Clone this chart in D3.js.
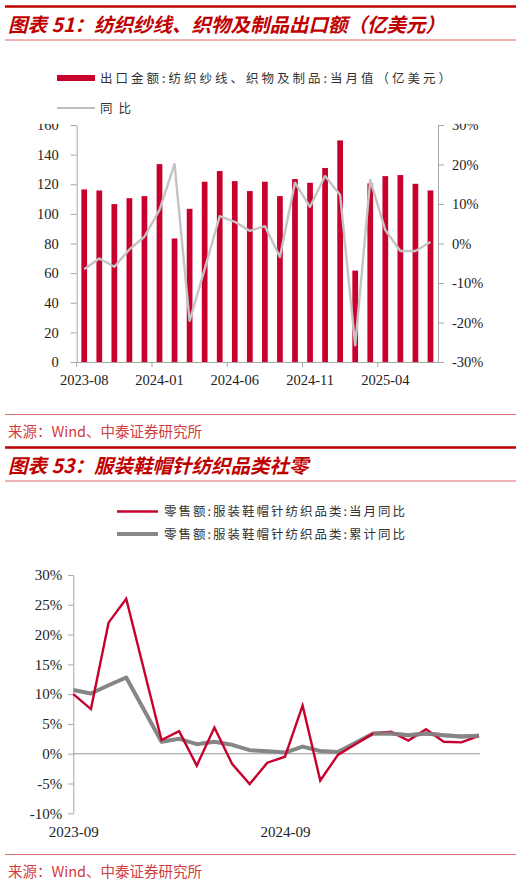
<!DOCTYPE html>
<html>
<head>
<meta charset="utf-8">
<script src="https://cdn.jsdelivr.net/npm/d3@7"></script>
<style>
  body { margin: 0; background: #fff; }
  svg { display: block; }
</style>
</head>
<body>
<svg id="page" width="529" height="884"></svg>
<script>
// Data

// Chart 51: monthly export value (100M USD) and yoy (%)
const exportMonths = ["2023-08","2023-09","2023-10","2023-11","2023-12","2024-01","2024-02","2024-03",
  "2024-04","2024-05","2024-06","2024-07","2024-08","2024-09","2024-10","2024-11","2024-12",
  "2025-01","2025-02","2025-03","2025-04","2025-05","2025-06","2025-07"];
const exportValue = [116.5, 115.8, 106.6, 110.6, 112.0, 133.6, 83.4, 103.4, 121.7, 128.9, 122.1, 115.4,
  121.7, 112.0, 123.5, 121.0, 131.0, 149.6, 61.7, 120.6, 125.5, 126.2, 120.3, 115.8];
const exportYoy = [-6.5, -3.8, -5.9, -1.5, 1.7, 8.5, 20.1, -19.6, -6.5, 6.9, 5.5, 3.2,
  4.4, -3.4, 15.4, 9.3, 17.1, 12.3, -25.8, 16.1, 3.4, -1.9, -1.9, 0.4];
const exportTicks = ["2023-08", "2024-01", "2024-06", "2024-11", "2025-04"];

// Chart 53: retail sales of apparel, footwear, hats and textiles (%), Jan is not published
const retailMonths = ["2023-09","2023-10","2023-11","2023-12","2024-01","2024-02","2024-03","2024-04",
  "2024-05","2024-06","2024-07","2024-08","2024-09","2024-10","2024-11","2024-12","2025-01",
  "2025-02","2025-03","2025-04","2025-05","2025-06","2025-07","2025-08"];
const retailMonthly = [10.0, 7.5, 22.0, 26.0, null, 2.3, 3.8, -2.0, 4.4, -1.7, -5.1, -1.5,
  -0.5, 8.1, -4.5, -0.2, null, 3.4, 3.7, 2.2, 4.1, 2.0, 1.9, 3.0];
const retailCumulative = [10.7, 10.1, 11.5, 12.8, null, 2.0, 2.5, 1.6, 2.0, 1.5, 0.6, 0.4,
  0.2, 1.2, 0.45, 0.3, null, 3.4, 3.4, 3.1, 3.4, 3.1, 2.9, 3.0];
const retailTicks = ["2023-09", "2024-09"];

const RED = "#c00000";
const BAR_RED = "#c8002e";
const serif = "'Liberation Serif', 'DejaVu Serif', serif";
const cjk = "'Noto Sans CJK SC', sans-serif";

const svg = d3.select("#page");

// ---------- page frame: titles, rules, sources ----------
function header(yTop, title) {
  svg.append("line")
    .attr("x1", 5).attr("x2", 516).attr("y1", yTop).attr("y2", yTop)
    .attr("stroke", RED).attr("stroke-width", 2.6);
  svg.append("text")
    .attr("x", 8).attr("y", yTop + 25)
    .attr("fill", RED)
    .style("font-family", cjk).style("font-size", "19.5px")
    .style("font-weight", "bold").style("font-style", "italic")
    .text(title);
  svg.append("line")
    .attr("x1", 5).attr("x2", 516).attr("y1", yTop + 33.5).attr("y2", yTop + 33.5)
    .attr("stroke", "#e06666").attr("stroke-width", 1);
}

function source(yLine) {
  svg.append("line")
    .attr("x1", 5).attr("x2", 516).attr("y1", yLine).attr("y2", yLine)
    .attr("stroke", "#e07070").attr("stroke-width", 1);
  svg.append("text")
    .attr("x", 8).attr("y", yLine + 22)
    .attr("fill", "#d23c3c")
    .style("font-family", cjk).style("font-size", "14.5px")
    .text("来源：Wind、中泰证券研究所");
}

header(6.5, "图表 51：纺织纱线、织物及制品出口额（亿美元）");
source(414.5);
header(447.5, "图表 53：服装鞋帽针纺织品类社零");
source(854.5);

// ---------- chart 51: bars + yoy line ----------
const c1 = {left: 76.7, right: 438, top: 125, bottom: 362};
const data1 = exportMonths.map((m, i) => ({month: m, value: exportValue[i], yoy: exportYoy[i]}));

const x1 = d3.scaleBand()
  .domain(exportMonths)
  .range([c1.left, c1.right])
  .paddingInner(0.62)
  .paddingOuter(0.31);
const band = x1.step();
const yL = d3.scaleLinear().domain([0, 160]).range([c1.bottom, c1.top]);
const yR = d3.scaleLinear().domain([-30, 30]).range([c1.bottom, c1.top]);

const g1 = svg.append("g");

// legend
g1.append("rect").attr("x", 57).attr("y", 75).attr("width", 38).attr("height", 6).attr("fill", BAR_RED);
g1.append("text").attr("x", 100).attr("y", 83)
  .attr("fill", "#333").attr("textLength", 351).attr("lengthAdjust", "spacing")
  .style("font-family", cjk).style("font-size", "12.5px")
  .text("出口金额:纺织纱线、织物及制品:当月值（亿美元）");
g1.append("line").attr("x1", 57).attr("x2", 95).attr("y1", 108).attr("y2", 108)
  .attr("stroke", "#c0c0c0").attr("stroke-width", 2.2);
g1.append("text").attr("x", 100).attr("y", 113)
  .attr("fill", "#333").attr("textLength", 31).attr("lengthAdjust", "spacing")
  .style("font-family", cjk).style("font-size", "12.5px")
  .text("同比");

// bars
g1.selectAll(".bar")
  .data(data1)
  .enter()
    .append("rect")
    .attr("class", "bar")
    .attr("x", d => x1(d.month))
    .attr("y", d => yL(d.value))
    .attr("width", x1.bandwidth())
    .attr("height", d => yL(0) - yL(d.value))
    .attr("fill", BAR_RED);

// yoy line
const line1 = d3.line()
  .x(d => x1(d.month) + x1.bandwidth() / 2)
  .y(d => yR(d.yoy));
g1.append("path")
  .datum(data1)
  .attr("d", line1)
  .attr("fill", "none")
  .attr("stroke", "#c4c4c4")
  .attr("stroke-width", 2.4)
  .attr("stroke-linejoin", "round");

// axes
function styleAxis(sel) {
  sel.selectAll(".domain").attr("stroke", "#a6a6a6");
  sel.selectAll(".tick line").attr("stroke", "#a6a6a6");
  sel.selectAll("text")
    .attr("fill", "#222")
    .style("font-family", serif).style("font-size", "14.5px");
}

g1.append("g")
  .attr("transform", "translate(" + c1.left + ",0)")
  .call(d3.axisLeft(yL).tickValues(d3.range(0, 161, 20)).tickSize(6).tickSizeOuter(0).tickPadding(12))
  .call(styleAxis);

g1.append("g")
  .attr("transform", "translate(" + c1.right + ",0)")
  .call(d3.axisRight(yR).tickValues(d3.range(-30, 31, 10)).tickSize(6).tickSizeOuter(0).tickPadding(8)
    .tickFormat(d => d + "%"))
  .call(styleAxis);

// x axis: marks sit on category boundaries, labels on the category centre
const xAxis1 = g1.append("g")
  .attr("transform", "translate(0," + c1.bottom + ")")
  .call(d3.axisBottom(x1).tickValues(exportTicks).tickSize(0).tickSizeOuter(0).tickPadding(13))
  .call(styleAxis);
xAxis1.selectAll(".tick line").remove();
xAxis1.selectAll(".boundary")
  .data(exportTicks)
  .enter()
    .append("line")
    .attr("class", "boundary")
    .attr("x1", d => x1(d) - x1.paddingOuter() * band)
    .attr("x2", d => x1(d) - x1.paddingOuter() * band)
    .attr("y1", 0).attr("y2", 5)
    .attr("stroke", "#a6a6a6");

// the top tick labels are cut by the legend box in the original
g1.append("rect").attr("x", 0).attr("y", 116).attr("width", 529).attr("height", 7.8).attr("fill", "#fff");

// ---------- chart 53: two lines ----------
const c2 = {left: 73.3, right: 479, top: 575, bottom: 813.3};
const data2 = retailMonths.map((m, i) => ({month: m, monthly: retailMonthly[i], cumulative: retailCumulative[i]}));

const x2 = d3.scalePoint().domain(retailMonths).range([c2.left, c2.right]);
const y2 = d3.scaleLinear().domain([-10, 30]).range([c2.bottom, c2.top]);

const g2 = svg.append("g");

// legend
g2.append("line").attr("x1", 117).attr("x2", 158).attr("y1", 511.5).attr("y2", 511.5)
  .attr("stroke", BAR_RED).attr("stroke-width", 2.6);
g2.append("text").attr("x", 164).attr("y", 516)
  .attr("fill", "#333").attr("textLength", 241).attr("lengthAdjust", "spacing")
  .style("font-family", cjk).style("font-size", "12.5px")
  .text("零售额:服装鞋帽针纺织品类:当月同比");
g2.append("line").attr("x1", 117).attr("x2", 158).attr("y1", 534).attr("y2", 534)
  .attr("stroke", "#888").attr("stroke-width", 4);
g2.append("text").attr("x", 164).attr("y", 538.5)
  .attr("fill", "#333").attr("textLength", 241).attr("lengthAdjust", "spacing")
  .style("font-family", cjk).style("font-size", "12.5px")
  .text("零售额:服装鞋帽针纺织品类:累计同比");

// y axis
g2.append("g")
  .attr("transform", "translate(" + c2.left + ",0)")
  .call(d3.axisLeft(y2).tickValues(d3.range(-10, 31, 5)).tickSize(5).tickSizeOuter(0).tickPadding(6)
    .tickFormat(d => d + "%"))
  .call(styleAxis)
  .call(g => g.selectAll("text").style("font-size", "15px"));

// zero line
g2.append("line")
  .attr("x1", c2.left).attr("x2", c2.right + 1)
  .attr("y1", y2(0)).attr("y2", y2(0))
  .attr("stroke", "#999").attr("stroke-width", 1.2);

// x labels
g2.append("g")
  .attr("transform", "translate(0," + c2.bottom + ")")
  .call(d3.axisBottom(x2).tickValues(retailTicks).tickSize(0).tickPadding(13))
  .call(styleAxis)
  .call(g => g.select(".domain").remove())
  .call(g => g.selectAll("text").style("font-size", "15px"));

// series (months without data are skipped, neighbours joined)
const line2 = key => d3.line()
  .x(d => x2(d.month))
  .y(d => y2(d[key]));

g2.append("path")
  .datum(data2.filter(d => d.cumulative != null))
  .attr("d", line2("cumulative"))
  .attr("fill", "none").attr("stroke", "#868686").attr("stroke-width", 4)
  .attr("stroke-linejoin", "round");

g2.append("path")
  .datum(data2.filter(d => d.monthly != null))
  .attr("d", line2("monthly"))
  .attr("fill", "none").attr("stroke", BAR_RED).attr("stroke-width", 2.4)
  .attr("stroke-linejoin", "miter");

// cumulative line sits over the monthly one in the later months
g2.append("path")
  .datum(data2.filter(d => d.cumulative != null && d.month >= "2025-02"))
  .attr("d", line2("cumulative"))
  .attr("fill", "none").attr("stroke", "#868686").attr("stroke-width", 4)
  .attr("stroke-opacity", 0.85)
  .attr("stroke-linejoin", "round");
</script>
</body>
</html>
